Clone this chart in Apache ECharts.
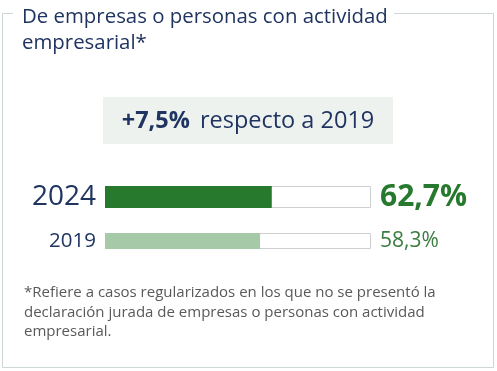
<!DOCTYPE html>
<html>
<head>
<meta charset="utf-8">
<script src="https://cdn.jsdelivr.net/npm/echarts@6/dist/echarts.min.js"></script>
<style>
html,body{margin:0;padding:0;background:#fff;}
#chart{width:497px;height:371px;}
</style>
</head>
<body>
<div id="chart"></div>
<script>
const titleText = 'De empresas o personas con actividad\nempresarial*';
const years = ['2024', '2019'];
const values = [62.7, 58.3];
const footnote = '*Refiere a casos regularizados en los que no se presentó la\ndeclaración jurada de empresas o personas con actividad\nempresarial.';

const FONT = '"Open Sans", sans-serif';
const NAVY = '#1f3461';
const fmt = v => v.toFixed(1).replace('.', ',') + '%';
const change = (values[0] / values[1] - 1) * 100;

const chart = echarts.init(document.getElementById('chart'), null, {renderer: 'canvas'});

const barColors = ['#277a2d', '#a6c9a8'];
const labelStyles = [
  {fontSize: 30, fontWeight: 'bold', color: '#277a2d'},
  {fontSize: 21, fontWeight: 'normal', color: '#3b7d40'}
];
const yLabelSizes = [28, 20.5];
const grids = [
  {left: 105, width: 266, top: 186, height: 22},
  {left: 105, width: 266, top: 233, height: 16}
];

const xAxes = [], yAxes = [], series = [];
years.forEach((y, i) => {
  xAxes.push({gridIndex: i, type: 'value', min: 0, max: 100, show: false});
  yAxes.push({gridIndex: i, type: 'category', data: [y],
    axisLine: {show: false}, axisTick: {show: false}, splitLine: {show: false},
    axisLabel: {fontFamily: FONT, fontSize: yLabelSizes[i], color: NAVY, margin: 9}});
  series.push({
    type: 'bar', xAxisIndex: i, yAxisIndex: i, data: [100], barWidth: '100%', barGap: '-100%',
    itemStyle: {color: '#ffffff', borderColor: '#cfcfcf', borderWidth: 1},
    silent: true, z: 1,
    label: {show: true, position: 'right', distance: 9, fontFamily: FONT,
      fontSize: labelStyles[i].fontSize, fontWeight: labelStyles[i].fontWeight, color: labelStyles[i].color,
      formatter: () => fmt(values[i])}
  });
  series.push({
    type: 'bar', xAxisIndex: i, yAxisIndex: i, data: [values[i]], barWidth: '100%', barGap: '-100%',
    itemStyle: {color: barColors[i]}, z: 2
  });
});

chart.setOption({
  animation: false,
  grid: grids,
  xAxis: xAxes,
  yAxis: yAxes,
  series: series,
  graphic: [
    {type: 'polyline', shape: {points: [[13, 13.5], [2.5, 13.5], [2.5, 367.5], [493.5, 367.5], [493.5, 13.5], [394, 13.5]]},
      style: {stroke: '#cfd6d6', lineWidth: 1, fill: null}},
    {type: 'text', left: 22, top: 4, style: {text: titleText, font: '20.4px ' + FONT, fill: NAVY, lineHeight: 26}},
    {type: 'rect', shape: {x: 103, y: 97, width: 290, height: 47}, style: {fill: '#eef2ef'}},
    {type: 'text', x: 248, y: 121, style: {
      text: '{b|+' + change.toFixed(1).replace('.', ',') + '%}{n|respecto a 2019}',
      align: 'center', verticalAlign: 'middle',
      rich: {
        b: {font: 'bold 23.5px ' + FONT, fill: NAVY, padding: [0, 10, 0, 0]},
        n: {font: '23.5px ' + FONT, fill: NAVY}
      }}},
    {type: 'text', left: 24, top: 283, style: {text: footnote, font: '15px ' + FONT, fill: '#595959', lineHeight: 19.5}}
  ]
});
</script>
</body>
</html>
